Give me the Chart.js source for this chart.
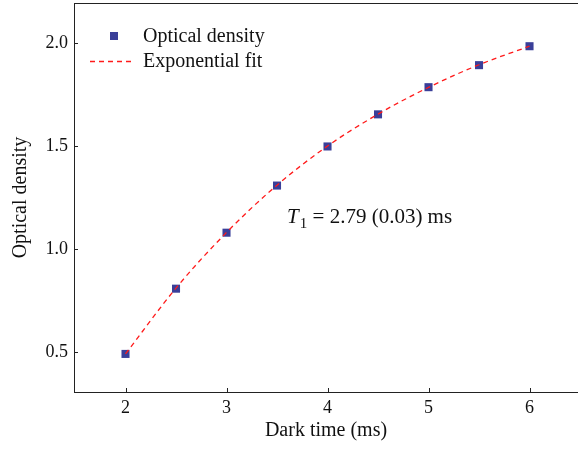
<!DOCTYPE html>
<html>
<head>
<meta charset="utf-8">
<script src="https://cdn.jsdelivr.net/npm/chart.js@4"></script>
<style>
  html, body { margin: 0; padding: 0; background: #fff; }
  #wrap { width: 578px; height: 449px; }
</style>
</head>
<body>
<div id="wrap"><canvas id="odChart"></canvas></div>
<script>
// data
const darkTime = [2, 2.5, 3, 3.5, 4, 4.5, 5, 5.5, 6];
const opticalDensity = [0.49, 0.807, 1.079, 1.308, 1.498, 1.654, 1.786, 1.893, 1.985];
const fitValues = [0.49, 0.81, 1.08, 1.31, 1.50, 1.655, 1.785, 1.895, 1.985];
const xTicks = [2, 3, 4, 5, 6];
const yTicks = [0.5, 1.0, 1.5, 2.0];
const yTickLabels = ["0.5", "1.0", "1.5", "2.0"];

const FONT = "'Liberation Serif', 'Times New Roman', serif";
const markerColor = "#3a3f99";
const fitColor = "#ff1a1a";

// drop the label-overflow padding chart.js adds, the box is fixed by hand
function noPad(s) {
  s.paddingTop = 0; s.paddingBottom = 0; s.paddingLeft = 0; s.paddingRight = 0;
}

// inward ticks, top spine, legend and T1 label
const extras = {
  id: "extras",
  afterDraw(chart) {
    const ctx = chart.ctx;
    const xs = chart.scales.x, ys = chart.scales.y;
    const area = chart.chartArea;
    ctx.save();
    ctx.strokeStyle = "#222";
    ctx.lineWidth = 1;
    ctx.beginPath();
    xTicks.forEach(v => {
      const px = Math.round(xs.getPixelForValue(v)) + 0.5;
      ctx.moveTo(px, area.bottom);
      ctx.lineTo(px, area.bottom - 4);
    });
    yTicks.forEach(v => {
      const py = Math.round(ys.getPixelForValue(v)) + 0.5;
      ctx.moveTo(area.left, py);
      ctx.lineTo(area.left + 4, py);
    });
    // top spine
    ctx.moveTo(area.left, area.top + 0.5);
    ctx.lineTo(area.right, area.top + 0.5);
    ctx.stroke();

    // legend
    ctx.fillStyle = markerColor;
    ctx.fillRect(110, 32, 8, 8);
    ctx.strokeStyle = fitColor;
    ctx.lineWidth = 1.3;
    ctx.setLineDash([5, 4]);
    ctx.beginPath();
    ctx.moveTo(90, 61.5);
    ctx.lineTo(133, 61.5);
    ctx.stroke();
    ctx.setLineDash([]);
    ctx.fillStyle = "#111";
    ctx.font = "20px " + FONT;
    ctx.textBaseline = "middle";
    ctx.fillText("Optical density", 143, 37);
    ctx.fillText("Exponential fit", 143, 62);

    // T1 annotation
    const tx = xs.getPixelForValue(3.6), ty = ys.getPixelForValue(1.124);
    ctx.textBaseline = "alphabetic";
    ctx.font = "italic 21px " + FONT;
    ctx.fillText("T", tx, ty);
    let w = ctx.measureText("T").width;
    ctx.font = "15px " + FONT;
    ctx.fillText("1", tx + w + 1, ty + 5);
    w += ctx.measureText("1").width + 1;
    ctx.font = "21px " + FONT;
    ctx.fillText(" = 2.79 (0.03) ms", tx + w, ty);
    ctx.restore();
  }
};

new Chart(document.getElementById("odChart"), {
  type: "scatter",
  data: {
    datasets: [
      {
        type: "line",
        label: "Exponential fit",
        data: darkTime.map((t, i) => ({ x: t, y: fitValues[i] })),
        borderColor: fitColor,
        borderWidth: 1.3,
        borderDash: [5, 4],
        pointRadius: 0,
        fill: false,
        cubicInterpolationMode: "monotone",
        order: 1
      },
      {
        label: "Optical density",
        data: darkTime.map((t, i) => ({ x: t, y: opticalDensity[i] })),
        pointStyle: "rect",
        pointRadius: 5.7,
        backgroundColor: markerColor,
        borderWidth: 0,
        order: 2
      }
    ]
  },
  options: {
    responsive: true,
    maintainAspectRatio: false,
    animation: false,
    layout: { autoPadding: false, padding: { top: 3, right: 0, left: 0, bottom: 0 } },
    plugins: { legend: { display: false }, tooltip: { enabled: false } },
    scales: {
      x: {
        type: "linear",
        min: 1.49,
        max: 6.48,
        afterBuildTicks: s => { s.ticks = xTicks.map(v => ({ value: v })); },
        afterFit: s => { s.height = 57; noPad(s); },
        grid: { display: false, drawTicks: false },
        border: { display: true, color: "#222", width: 1 },
        ticks: { color: "#111", font: { family: FONT, size: 18 }, padding: 5,
                 callback: v => String(v) },
        title: { display: true, text: "Dark time (ms)", color: "#111",
                 font: { family: FONT, size: 20 }, padding: { top: 0, bottom: 6 } }
      },
      y: {
        min: 0.305,
        max: 2.195,
        afterBuildTicks: s => { s.ticks = yTicks.map(v => ({ value: v })); },
        afterFit: s => { s.width = 74; noPad(s); },
        grid: { display: false, drawTicks: false },
        border: { display: true, color: "#222", width: 1 },
        ticks: { color: "#111", font: { family: FONT, size: 18 }, padding: 6,
                 callback: v => yTickLabels[yTicks.indexOf(v)] },
        title: { display: true, text: "Optical density", color: "#111",
                 font: { family: FONT, size: 20 }, padding: { top: 9, bottom: 0 } }
      }
    }
  },
  plugins: [extras]
});
</script>
</body>
</html>
